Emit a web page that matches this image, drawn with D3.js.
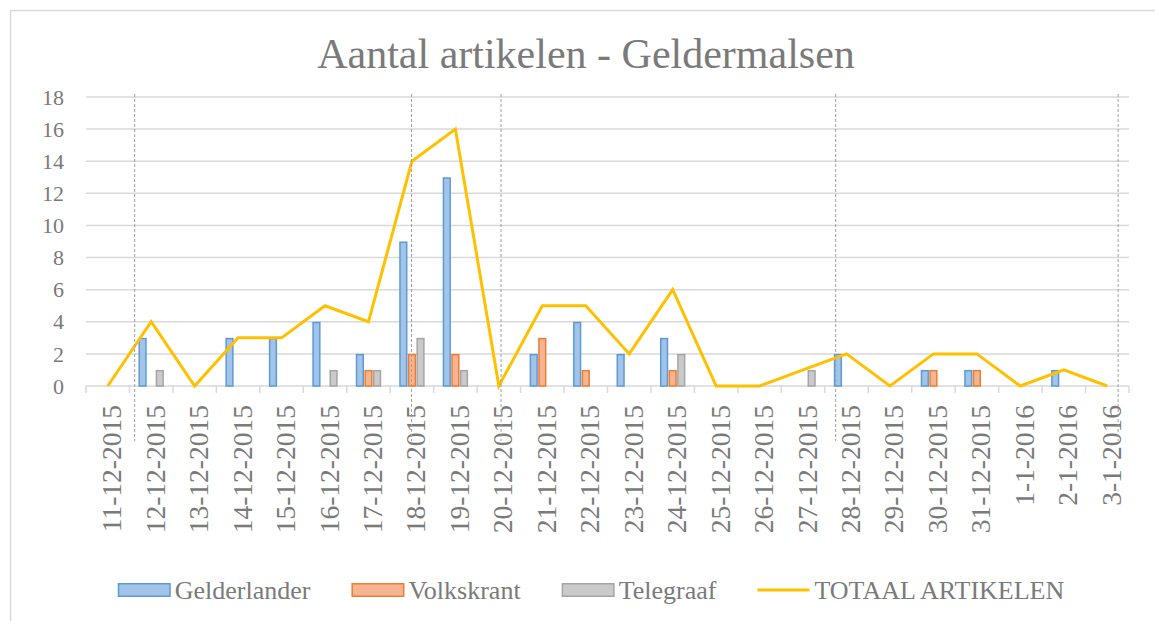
<!DOCTYPE html>
<html>
<head>
<meta charset="utf-8">
<script src="https://cdn.jsdelivr.net/npm/d3@7"></script>
<style>
  body { margin: 0; background: #fff; }
  svg { display: block; }
  text { font-family: "Liberation Serif", "Times New Roman", serif; fill: #7a7a7a; }
</style>
</head>
<body>
<svg class="chart" width="1155" height="621"></svg>
<script>
// data
var dates = ["11-12-2015", "12-12-2015", "13-12-2015", "14-12-2015", "15-12-2015", "16-12-2015",
             "17-12-2015", "18-12-2015", "19-12-2015", "20-12-2015", "21-12-2015", "22-12-2015",
             "23-12-2015", "24-12-2015", "25-12-2015", "26-12-2015", "27-12-2015", "28-12-2015",
             "29-12-2015", "30-12-2015", "31-12-2015", "1-1-2016", "2-1-2016", "3-1-2016"];
var gelderlander = [0, 3, 0, 3, 3, 4, 2, 9, 13, 0, 2, 4, 2, 3, 0, 0, 0, 2, 0, 1, 1, 0, 1, 0];
var volkskrant   = [0, 0, 0, 0, 0, 0, 1, 2, 2, 0, 3, 1, 0, 1, 0, 0, 0, 0, 0, 1, 1, 0, 0, 0];
var telegraaf    = [0, 1, 0, 0, 0, 1, 1, 3, 1, 0, 0, 0, 0, 2, 0, 0, 1, 0, 0, 0, 0, 0, 0, 0];
var totaal       = [0, 4, 0, 3, 3, 5, 4, 14, 16, 0, 5, 5, 2, 6, 0, 0, 1, 2, 0, 2, 2, 0, 1, 0];
var yTicks = [0, 2, 4, 6, 8, 10, 12, 14, 16, 18];
// dashed marker lines, in category units from the left edge of the axis
var markers = [1.12, 7.49, 9.55, 17.25, 23.75];

var seriesNames = ["Gelderlander", "Volkskrant", "Telegraaf"];
var seriesData = [gelderlander, volkskrant, telegraaf];
var fills   = ["#a3c4e8", "#f6b592", "#cacaca"];
var strokes = ["#5b9bd5", "#ed7d31", "#a5a5a5"];
var lineColor = "#ffc000";

var svg = d3.select(".chart");
var margin = {top: 97, right: 26, bottom: 235, left: 86};
var w = 1155 - margin.left - margin.right;
var h = 621 - margin.top - margin.bottom;

// chart border
svg.append("rect")
    .attr("x", 10.5).attr("y", 10.5)
    .attr("width", 1170).attr("height", 640)
    .style("fill", "none").style("stroke", "#d9d9d9").style("stroke-width", 1.5);

// title
svg.append("text")
    .attr("x", 586).attr("y", 68)
    .attr("text-anchor", "middle")
    .style("font-size", "42px")
    .text("Aantal artikelen - Geldermalsen");

var g = svg.append("g").attr("transform", "translate(" + margin.left + "," + margin.top + ")");

var x0 = d3.scaleBand().domain(dates).range([0, w]).padding(0);
var xIdx = d3.scaleLinear().domain([0, dates.length]).range([0, w]);
var groupW = x0.bandwidth() * 0.585;
var x1 = d3.scaleBand().domain(seriesNames).range([-groupW / 2, groupW / 2]).paddingInner(0.04);
var y = d3.scaleLinear().domain([0, 18]).range([h, 0]);

// gridlines
g.selectAll(".grid").data(yTicks).enter().append("line")
    .attr("class", "grid")
    .attr("x1", 0).attr("x2", w)
    .attr("y1", d => y(d)).attr("y2", d => y(d))
    .style("stroke", "#d9d9d9").style("stroke-width", 1.5);

// y labels
g.selectAll(".ylab").data(yTicks).enter().append("text")
    .attr("class", "ylab")
    .attr("x", -22).attr("y", d => y(d))
    .attr("dy", "0.35em")
    .attr("text-anchor", "end")
    .style("font-size", "22px")
    .text(d => d);

// x tick marks at category boundaries
g.selectAll(".tick").data(d3.range(dates.length + 1)).enter().append("line")
    .attr("class", "tick")
    .attr("x1", d => xIdx(d)).attr("x2", d => xIdx(d))
    .attr("y1", h).attr("y2", h + 7)
    .style("stroke", "#d9d9d9").style("stroke-width", 1.5);

// x labels
g.selectAll(".xlab").data(dates).enter().append("text")
    .attr("class", "xlab")
    .attr("transform", d => "translate(" + (x0(d) + x0.bandwidth() / 2 + 13.5) + "," + (h + 19) + ") rotate(-90)")
    .attr("text-anchor", "end")
    .style("font-size", "27.5px")
    .text(d => d);

// bars, one series at a time
seriesNames.forEach(function(name, s) {
    var rows = seriesData[s].map((v, i) => ({date: dates[i], value: v})).filter(r => r.value > 0);
    g.selectAll(".bar" + s).data(rows).enter().append("rect")
        .attr("class", "bar" + s)
        .attr("x", d => x0(d.date) + x0.bandwidth() / 2 + x1(name) + 0.75)
        .attr("y", d => y(d.value) + 0.75)
        .attr("width", x1.bandwidth() - 1.5)
        .attr("height", d => h - y(d.value) - 0.75)
        .style("fill", fills[s])
        .style("stroke", strokes[s])
        .style("stroke-width", 1.5);
});

// total line
var line = d3.line()
    .x((d, i) => x0(dates[i]) + x0.bandwidth() / 2)
    .y(d => y(d));
g.append("path")
    .datum(totaal)
    .attr("d", line)
    .style("fill", "none")
    .style("stroke", lineColor)
    .style("stroke-width", 3)
    .style("stroke-linejoin", "miter");

// dashed marker lines
g.selectAll(".marker").data(markers).enter().append("line")
    .attr("class", "marker")
    .attr("x1", d => xIdx(d)).attr("x2", d => xIdx(d))
    .attr("y1", -3).attr("y2", h + 55)
    .style("stroke", "#a0a0a0").style("stroke-width", 1)
    .style("stroke-dasharray", "3,2");

// legend
var legend = svg.append("g");
var items = seriesNames.concat(["TOTAAL ARTIKELEN"]);
var lx = 0;
items.forEach(function(name, i) {
    var item = legend.append("g").attr("transform", "translate(" + lx + ",0)");
    if (i < 3) {
        item.append("rect").attr("x", 0.75).attr("y", -6.25).attr("width", 51.5).attr("height", 12.5)
            .style("fill", fills[i]).style("stroke", strokes[i]).style("stroke-width", 1.5);
    } else {
        item.append("line").attr("x1", 0).attr("x2", 52).attr("y1", 0).attr("y2", 0)
            .style("stroke", lineColor).style("stroke-width", 3);
    }
    var t = item.append("text").attr("x", 57).attr("y", 8.5)
        .style("font-size", "26px").text(name);
    lx += 57 + t.node().getComputedTextLength() + 41;
});
var legendW = lx - 41;
legend.attr("transform", "translate(" + (591 - legendW / 2) + ",590)");
</script>
</body>
</html>
